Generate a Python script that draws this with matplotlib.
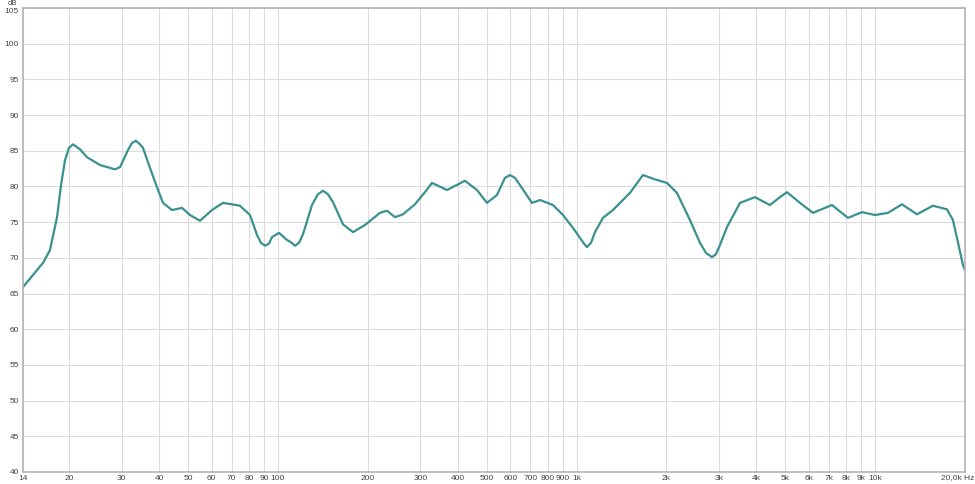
import numpy as np
import matplotlib
matplotlib.use("Agg")
import matplotlib.pyplot as plt

# frequency response (Hz, dB)
freq_hz = [14.0, 15.12, 16.34, 17.24, 18.20, 18.77, 19.36, 19.96, 20.59, 21.73,
           22.94, 25.35, 28.46, 29.58, 31.46, 32.45, 33.46, 34.51, 35.32, 37.27,
           39.34, 41.21, 44.17, 47.71, 50.74, 54.82, 60.12, 65.44, 70.15, 74.61,
           80.6, 85.1, 87.7, 90.5, 93.3, 95.5, 100.8, 107.2, 110.5, 114.0,
           117.6, 121.3, 130.0, 136.1, 141.5, 147.1,
           152.9, 165.1, 178.4, 195.6, 219.6, 231.8, 246.6, 262.2, 287.6, 310.7,
           328.0, 368.3, 423.1, 464.0, 501.2, 541.3, 575.8, 598.4, 622.0, 646.4,
           709.0, 754.2,
           833.7, 900.6, 972.7, 1027, 1059, 1084, 1118, 1153, 1226, 1324, 1510, 1669,
           1830, 2008, 2169, 2398, 2591, 2713, 2841, 2930, 3022, 3190, 3527, 3959,
           4444, 4800, 5067, 5603, 6191, 7168, 8110, 9035, 9986, 11040,
           12295, 13806, 15620, 17398, 18221, 18939, 19682, 19990]
level_db = [65.9, 67.6, 69.3, 71.1, 75.7, 80.2, 83.7, 85.4, 85.9, 85.2,
            84.1, 83.0, 82.4, 82.7, 85.1, 86.1, 86.4, 85.9, 85.4, 82.6,
            79.9, 77.7, 76.7, 77.0, 76.0, 75.2, 76.7, 77.7, 77.5, 77.3,
            76.0, 73.2, 72.1, 71.7, 72.0, 72.9, 73.5, 72.5, 72.2, 71.7,
            72.1, 73.3, 77.4, 78.9, 79.4, 78.9,
            77.8, 74.7, 73.6, 74.6, 76.3, 76.6, 75.7, 76.1, 77.5, 79.2,
            80.5, 79.5, 80.8, 79.5, 77.7, 78.8, 81.2, 81.6, 81.2, 80.2,
            77.7, 78.1,
            77.4, 76.0, 74.2, 72.8, 72.0, 71.5, 72.1, 73.6, 75.6, 76.7, 79.1, 81.6,
            81.0, 80.5, 79.1, 75.3, 72.1, 70.7, 70.1, 70.5, 71.8, 74.3, 77.7, 78.5,
            77.4, 78.5, 79.2, 77.7, 76.3, 77.4, 75.6, 76.4, 76.0, 76.3,
            77.5, 76.1, 77.3, 76.8, 75.3, 72.2, 69.0, 68.3]

x_ticks = [14, 20, 30, 40, 50, 60, 70, 80, 90, 100,
           200, 300, 400, 500, 600, 700, 800, 900, 1000,
           2000, 3000, 4000, 5000, 6000, 7000, 8000, 9000, 10000, 20000]
x_labels = ["14", "20", "30", "40", "50", "60", "70", "80", "90", "100",
            "200", "300", "400", "500", "600", "700", "800", "900", "1k",
            "2k", "3k", "4k", "5k", "6k", "7k", "8k", "9k", "10k", ""]
y_ticks = list(range(40, 106, 5))

plt.rcParams['font.family'] = ['Liberation Sans', 'DejaVu Sans']

fig = plt.figure(figsize=(9.75, 4.84), dpi=100)
ax = fig.add_axes([23 / 975, 12 / 484, 942 / 975, 464 / 484])

ax.plot(freq_hz, level_db, color='#3b9090', lw=1.6,
        solid_joinstyle='round', solid_capstyle='round')

ax.set_xscale('log')
ax.set_xlim(14, 20000)
ax.set_ylim(40, 105)
ax.set_xticks(x_ticks)
ax.set_xticklabels(x_labels)
ax.minorticks_off()
ax.set_yticks(y_ticks)
ax.set_yticklabels([str(v) for v in y_ticks])
ax.tick_params(length=0, labelsize=6, colors='#444444', pad=2)
ax.tick_params(axis='y', pad=3)
# keep the top label clear of the "dB" unit text
ax.get_yticklabels()[-1].set_va('top')

ax.grid(True, color='#dcdcdc', lw=0.8)
ax.set_axisbelow(True)
for side in ax.spines.values():
    side.set_color('#b4b4b4')
    side.set_linewidth(1.2)

fig.text(974 / 975, 6 / 484, "20,0k Hz", ha='right', va='center', fontsize=6, color='#444444')
fig.text(12 / 975, 1.0, "dB", ha='center', va='top', fontsize=5.5, color='#444444')

fig.savefig("out.png", dpi=100)
